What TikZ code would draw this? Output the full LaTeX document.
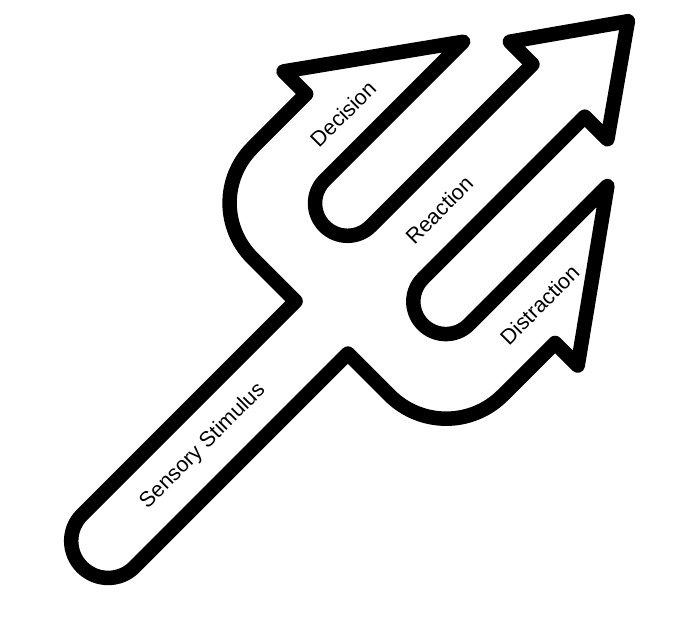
\documentclass[tikz,border=0pt]{standalone}
\usepackage{fontspec}
\setmainfont{Liberation Sans}
\begin{document}
\begin{tikzpicture}[x=1pt,y=1pt,
  outline/.style={draw=black,line width=14.5pt,line join=round,line cap=round},
  lbl/.style={font=\fontsize{21.5}{25}\selectfont,inner sep=0pt,rotate=45}]
\useasboundingbox (0,0) rectangle (700,628);
\begin{scope}[shift={(0,628)},rotate=45]
  % named corner points (local: a along prongs, c across)
  \coordinate (ln) at (-4,-422);
  \coordinate (rn) at (-4,-496);
  \coordinate (dn) at (150,-283);
  \coordinate (db) at (150,-251);
  \coordinate (dt) at (298,-357);
  \coordinate (run) at (331,-422);
  \coordinate (rub) at (331,-390);
  \coordinate (rt) at (429,-459);
  \coordinate (rlb) at (331,-528);
  \coordinate (rln) at (331,-496);
  \coordinate (xt) at (298,-561);
  \coordinate (xb) at (150,-667);
  \coordinate (xn) at (150,-635);
  \draw[outline]
    (ln) -- (-4,-361) arc[start angle=180,end angle=90,radius=78]
    -- (dn) -- (db) -- (dt)
    -- (102,-357) arc[start angle=90,end angle=270,radius=32.5]
    -- (run) -- (rub) -- (rt) -- (rlb) -- (rln)
    -- (102,-496) arc[start angle=90,end angle=270,radius=32.5]
    -- (xt) -- (xb) -- (xn)
    -- (76,-635) arc[start angle=270,end angle=180,radius=80]
    -- (rn)
    -- (-306,-496) arc[start angle=270,end angle=90,radius=37]
    -- cycle;
  \node[lbl] (dec) at (162,-323) {Decision};
  \node[lbl] (rea) at (162,-459) {Reaction};
  \node[lbl] (dis) at (166,-597) {Distraction};
  \node[lbl] (sen) at (-172,-459) {Sensory Stimulus};
\end{scope}
\end{tikzpicture}
\end{document}
